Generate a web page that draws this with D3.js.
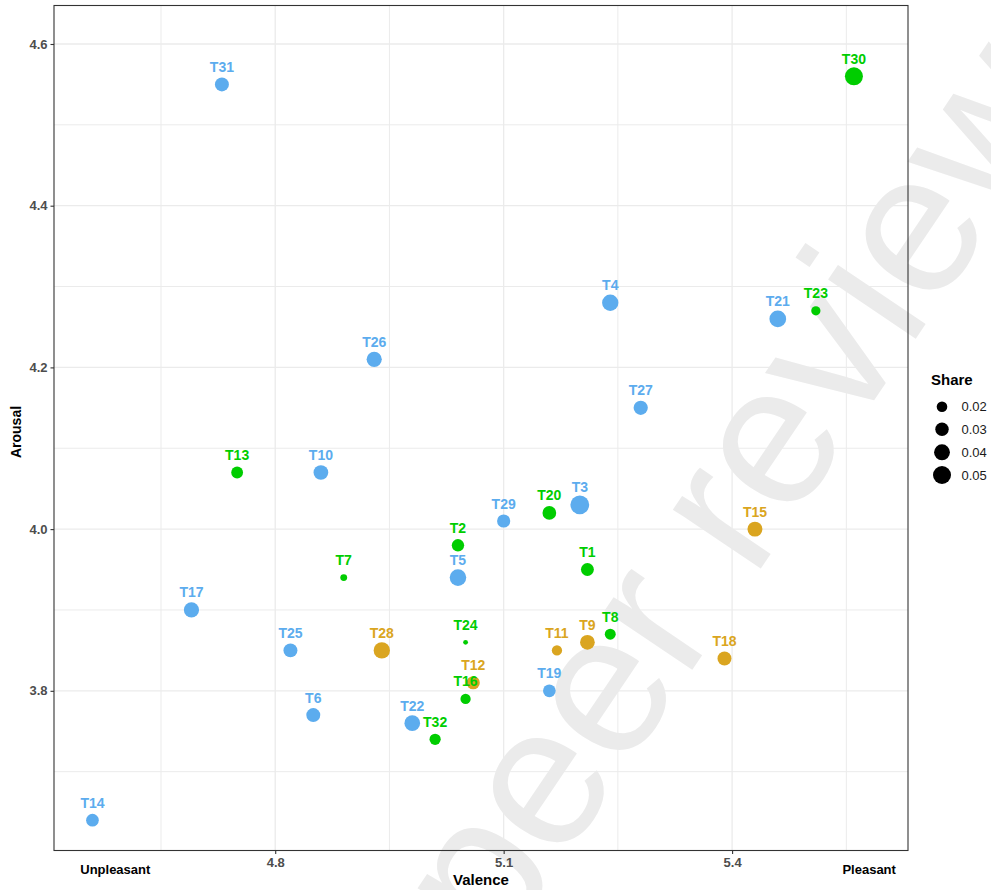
<!DOCTYPE html>
<html>
<head>
<meta charset="utf-8">
<script src="https://cdn.jsdelivr.net/npm/d3@7"></script>
<style>
  html, body { margin: 0; padding: 0; background: #fff; }
  svg { display: block; font-family: "Liberation Sans", Arial, Helvetica, sans-serif; }
</style>
</head>
<body>
<svg id="chart" width="991" height="890"></svg>
<script>
// Topics: label, valence, arousal, share of corpus, group
const topics   = ["T1","T2","T3","T4","T5","T6","T7","T8","T9","T10","T11","T12","T13","T14","T15","T16",
                  "T17","T18","T19","T20","T21","T22","T23","T24","T25","T26","T27","T28","T29","T30","T31","T32"];
const valence  = [5.21,5.04,5.20,5.24,5.04,4.85,4.89,5.24,5.21,4.86,5.17,5.06,4.75,4.56,5.43,5.05,
                  4.69,5.39,5.16,5.16,5.46,4.98,5.51,5.05,4.82,4.93,5.28,4.94,5.10,5.56,4.73,5.01];
const arousal  = [3.95,3.98,4.03,4.28,3.94,3.77,3.94,3.87,3.86,4.07,3.85,3.81,4.07,3.64,4.00,3.79,
                  3.90,3.84,3.80,4.02,4.26,3.76,4.27,3.86,3.85,4.21,4.15,3.85,4.01,4.56,4.55,3.74];
const share    = [0.028,0.026,0.054,0.042,0.043,0.032,0.010,0.021,0.035,0.035,0.019,0.029,0.024,0.027,0.036,0.019,
                  0.037,0.032,0.027,0.031,0.044,0.039,0.016,0.006,0.032,0.037,0.033,0.042,0.029,0.050,0.032,0.022];
const group    = ["g","g","b","b","b","b","g","g","o","b","o","o","g","b","o","g",
                  "b","o","b","g","b","b","g","g","b","b","b","o","b","g","b","g"];

const groupColors = { b: "#5CACEE", g: "#00CD00", o: "#DAA520" };

// Axis settings
const xDomain = [4.5095, 5.631];
const yDomain = [3.6025, 4.6476];
const xMajor = [4.8, 5.1, 5.4];
const xMinor = [4.65, 4.95, 5.25, 5.55];
const yMajor = [3.8, 4.0, 4.2, 4.4, 4.6];
const yMinor = [3.7, 3.9, 4.1, 4.3, 4.5];
const xEndLabels = [{ v: 4.59, text: "Unpleasant" }, { v: 5.58, text: "Pleasant" }];
const legendShares = [0.02, 0.03, 0.04, 0.05];

const panel = { left: 54, right: 908, top: 5.5, bottom: 850.5 };

const svg = d3.select("#chart");

const x = d3.scaleLinear().domain(xDomain).range([panel.left, panel.right]);
const y = d3.scaleLinear().domain(yDomain).range([panel.bottom, panel.top]);
const r = d3.scaleSqrt().domain([0.02, 0.05]).range([5.3, 9]);

// Background "peer review" stamp
svg.append("text")
  .attr("transform", "translate(498,958) rotate(-56)")
  .attr("font-size", 200)
  .attr("fill", "#ebebeb")
  .text("peer review");

// Grid
const grid = svg.append("g");
grid.selectAll(".xminor").data(xMinor).join("line")
  .attr("x1", d => x(d)).attr("x2", d => x(d))
  .attr("y1", panel.top).attr("y2", panel.bottom)
  .attr("stroke", "#ebebeb").attr("stroke-width", 1);
grid.selectAll(".yminor").data(yMinor).join("line")
  .attr("y1", d => y(d)).attr("y2", d => y(d))
  .attr("x1", panel.left).attr("x2", panel.right)
  .attr("stroke", "#ebebeb").attr("stroke-width", 1);
grid.selectAll(".xmajor").data(xMajor).join("line")
  .attr("x1", d => x(d)).attr("x2", d => x(d))
  .attr("y1", panel.top).attr("y2", panel.bottom)
  .attr("stroke", "#ebebeb").attr("stroke-width", 1.3);
grid.selectAll(".ymajor").data(yMajor).join("line")
  .attr("y1", d => y(d)).attr("y2", d => y(d))
  .attr("x1", panel.left).attr("x2", panel.right)
  .attr("stroke", "#ebebeb").attr("stroke-width", 1.3);

// Points
const data = topics.map((t, i) => ({ t, v: valence[i], a: arousal[i], s: share[i], g: group[i] }));

svg.append("g").selectAll("circle").data(data).join("circle")
  .attr("cx", d => x(d.v))
  .attr("cy", d => y(d.a))
  .attr("r", d => r(d.s))
  .attr("fill", d => groupColors[d.g]);

// Labels above points
svg.append("g").selectAll("text").data(data).join("text")
  .attr("x", d => x(d.v))
  .attr("y", d => y(d.a) - 12.5)
  .attr("text-anchor", "middle")
  .attr("font-size", 14)
  .attr("font-weight", "bold")
  .attr("fill", d => groupColors[d.g])
  .text(d => d.t);

// Panel border
svg.append("rect")
  .attr("x", panel.left).attr("y", panel.top)
  .attr("width", panel.right - panel.left).attr("height", panel.bottom - panel.top)
  .attr("fill", "none").attr("stroke", "#333333").attr("stroke-width", 1.1);

// Axes
const xAxis = svg.append("g")
  .attr("transform", `translate(0,${panel.bottom})`)
  .call(d3.axisBottom(x).tickValues(xMajor).tickFormat(d3.format(".1f")).tickSize(3.5).tickPadding(3.5));
const yAxis = svg.append("g")
  .attr("transform", `translate(${panel.left},0)`)
  .call(d3.axisLeft(y).tickValues(yMajor).tickFormat(d3.format(".1f")).tickSize(3.5).tickPadding(3));
[xAxis, yAxis].forEach(a => {
  a.select(".domain").remove();
  a.selectAll(".tick line").attr("stroke", "#333333").attr("stroke-width", 1.1);
  a.selectAll(".tick text")
    .attr("font-family", "Liberation Sans, Arial, sans-serif")
    .attr("font-size", 13).attr("font-weight", "bold").attr("fill", "#4d4d4d");
});

// End labels on the valence axis
svg.append("g").selectAll("text").data(xEndLabels).join("text")
  .attr("x", d => x(d.v))
  .attr("y", 873.5)
  .attr("text-anchor", "middle")
  .attr("font-size", 13)
  .attr("font-weight", "bold")
  .attr("fill", "#000")
  .text(d => d.text);

// Axis titles
svg.append("text")
  .attr("x", (panel.left + panel.right) / 2)
  .attr("y", 885)
  .attr("text-anchor", "middle")
  .attr("font-size", 15)
  .attr("font-weight", "bold")
  .attr("fill", "#000")
  .text("Valence");

svg.append("text")
  .attr("transform", `translate(21,${(panel.top + panel.bottom) / 2 + 4}) rotate(-90)`)
  .attr("text-anchor", "middle")
  .attr("font-size", 14)
  .attr("font-weight", "bold")
  .attr("fill", "#000")
  .text("Arousal");

// Size legend
const legend = svg.append("g");
legend.append("text")
  .attr("x", 931).attr("y", 385)
  .attr("font-size", 15).attr("font-weight", "bold").attr("fill", "#000")
  .text("Share");
const legendY = [406.7, 429.3, 452.3, 475];
const items = legend.selectAll("g.item").data(legendShares).join("g")
  .attr("transform", (d, i) => `translate(942,${legendY[i]})`);
items.append("circle").attr("r", d => r(d)).attr("fill", "#000");
items.append("text")
  .attr("x", 19.5).attr("dy", "0.35em")
  .attr("font-size", 13).attr("fill", "#1a1a1a")
  .text(d => d3.format(".2f")(d));
</script>
</body>
</html>
